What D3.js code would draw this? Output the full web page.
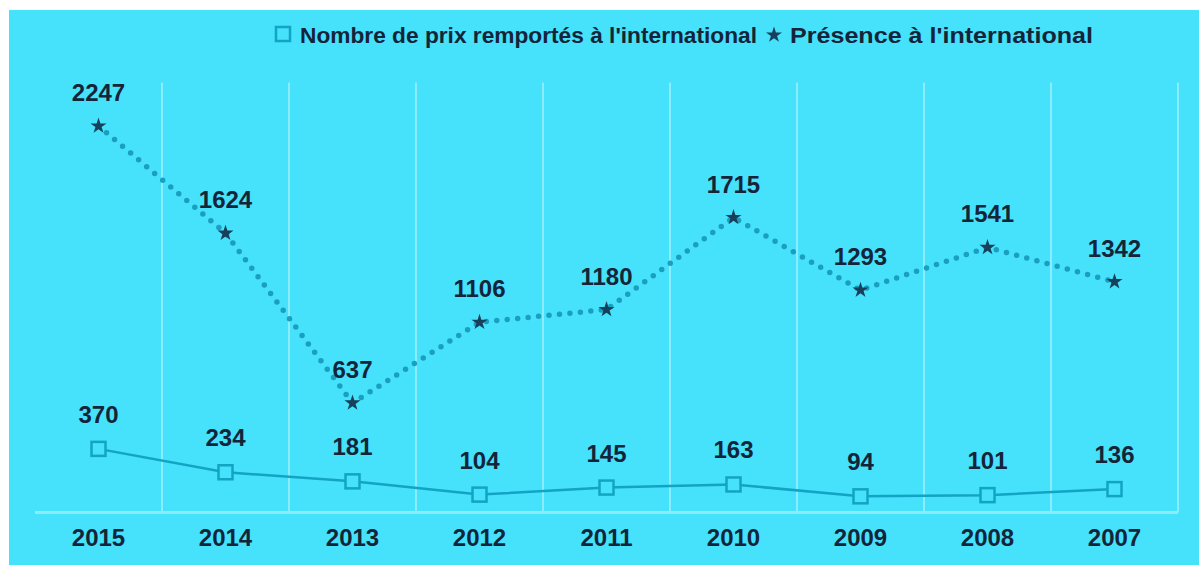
<!DOCTYPE html>
<html>
<head>
<meta charset="utf-8">
<script src="https://cdn.jsdelivr.net/npm/d3@7"></script>
<style>
  body { margin: 0; background: #ffffff; }
  text { font-family: "Liberation Sans", Arial, sans-serif; font-weight: bold; fill: #14253a; }
</style>
</head>
<body>
<svg id="chart" width="1199" height="565"></svg>
<script>
// years as shown left to right
const years = ["2015", "2014", "2013", "2012", "2011", "2010", "2009", "2008", "2007"];
// Nombre de prix remportés à l'international
const prix = [370, 234, 181, 104, 145, 163, 94, 101, 136];
// Présence à l'international
const presence = [2247, 1624, 637, 1106, 1180, 1715, 1293, 1541, 1342];
const legendLabels = ["Nombre de prix remportés à l'international", "Présence à l'international"];

const svg = d3.select("#chart");
const lineColor = "#12a4c4";

// background panel
svg.append("rect")
    .attr("x", 9).attr("y", 10)
    .attr("width", 1190).attr("height", 555)
    .attr("fill", "#46e1fb");

let x = d3.scaleBand().domain(years).range([35, 1178]).padding(0);
let y = d3.scaleLinear().domain([0, 2500]).range([512.5, 82.5]);

// vertical grid lines between bands
svg.append("g")
    .selectAll("line")
    .data(years)
    .enter().append("line")
    .attr("x1", d => x(d) + x.bandwidth())
    .attr("x2", d => x(d) + x.bandwidth())
    .attr("y1", y(2500))
    .attr("y2", y(0))
    .attr("stroke", "#8aecfc")
    .attr("stroke-width", 2);

// baseline
svg.append("line")
    .attr("x1", 35).attr("x2", 1178)
    .attr("y1", y(0)).attr("y2", y(0))
    .attr("stroke", "#8aecfc")
    .attr("stroke-width", 3);

// x axis labels
let xAxis = d3.axisBottom(x).tickSize(0).tickPadding(16);
let axisG = svg.append("g")
    .attr("transform", "translate(0," + y(0) + ")")
    .call(xAxis);
axisG.select(".domain").remove();
axisG.selectAll("text")
    .attr("font-size", 24)
    .attr("font-family", "Liberation Sans, Arial, sans-serif")
    .attr("font-weight", "bold")
    .attr("fill", "#14253a");

let cx = d => x(d) + x.bandwidth() / 2;

// presence : dotted line
let presLine = d3.line()
    .x((d, i) => cx(years[i]))
    .y(d => y(d));
svg.append("path")
    .datum(presence)
    .attr("d", presLine)
    .attr("fill", "none")
    .attr("stroke", "#1a9fc0")
    .attr("stroke-width", 5.5)
    .attr("stroke-linecap", "round")
    .attr("stroke-dasharray", "0,10.5");

svg.append("g")
    .selectAll("path")
    .data(presence)
    .enter().append("path")
    .attr("transform", (d, i) => "translate(" + cx(years[i]) + "," + y(d) + ")")
    .attr("d", d3.symbol().type(d3.symbolStar).size(80))
    .attr("fill", "#17405a");

svg.append("g")
    .selectAll("text")
    .data(presence)
    .enter().append("text")
    .attr("x", (d, i) => cx(years[i]))
    .attr("y", d => y(d) - 25)
    .attr("text-anchor", "middle")
    .attr("font-size", 24)
    .text(d => d);

// prix : solid line with open squares
let prixLine = d3.line()
    .x((d, i) => cx(years[i]))
    .y(d => y(d));
svg.append("path")
    .datum(prix)
    .attr("d", prixLine)
    .attr("fill", "none")
    .attr("stroke", lineColor)
    .attr("stroke-width", 2.5);

svg.append("g")
    .selectAll("rect")
    .data(prix)
    .enter().append("rect")
    .attr("x", (d, i) => cx(years[i]) - 7)
    .attr("y", d => y(d) - 7)
    .attr("width", 14).attr("height", 14)
    .attr("fill", "#46e1fb")
    .attr("stroke", lineColor)
    .attr("stroke-width", 2.5);

svg.append("g")
    .selectAll("text")
    .data(prix)
    .enter().append("text")
    .attr("x", (d, i) => cx(years[i]))
    .attr("y", d => y(d) - 26)
    .attr("text-anchor", "middle")
    .attr("font-size", 24)
    .text(d => d);

// legend
let legend = svg.append("g");
legend.append("rect")
    .attr("x", 276).attr("y", 27)
    .attr("width", 14).attr("height", 14)
    .attr("fill", "#46e1fb")
    .attr("stroke", lineColor)
    .attr("stroke-width", 2.5);
legend.append("text")
    .attr("x", 300).attr("y", 43)
    .attr("font-size", 22)
    .attr("textLength", 457)
    .attr("lengthAdjust", "spacingAndGlyphs")
    .text(legendLabels[0]);
legend.append("path")
    .attr("transform", "translate(774,35)")
    .attr("d", d3.symbol().type(d3.symbolStar).size(80))
    .attr("fill", "#17405a");
legend.append("text")
    .attr("x", 790).attr("y", 43)
    .attr("font-size", 22)
    .attr("textLength", 303)
    .attr("lengthAdjust", "spacingAndGlyphs")
    .text(legendLabels[1]);
</script>
</body>
</html>
